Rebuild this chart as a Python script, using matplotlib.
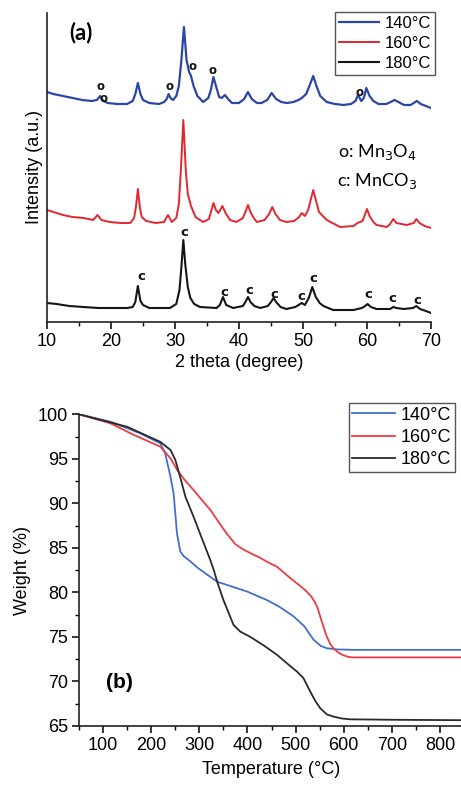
import matplotlib
matplotlib.use("Agg")
import matplotlib.pyplot as plt
from matplotlib.ticker import MultipleLocator

plt.rcParams['font.family'] = ['Liberation Sans', 'DejaVu Sans']

# ---------------- XRD data (a) ----------------
xrd_140_x = [10, 11, 12.5, 14, 15.5, 17, 17.8, 18.3, 18.8, 19.5, 21, 22.5, 23.4, 23.8, 24.2, 24.6, 25.0,
             26.0, 27.5, 28.3, 28.7, 29.0, 29.3, 29.7, 30.2, 30.6, 31.0, 31.4, 31.8, 32.2, 32.5, 32.9,
             33.5, 34.4, 35.2, 35.6, 36.0, 36.4, 36.9, 37.3, 37.8, 38.3, 38.9, 40.0, 40.8, 41.4, 42.0,
             42.8, 43.5, 44.4, 45.1, 45.8, 46.6, 47.5, 48.5, 49.3, 49.8, 50.5, 51.0, 51.6, 52.1, 52.7,
             53.7, 55.0, 56.3, 57.5, 58.2, 58.6, 59.1, 59.5, 59.9, 60.4, 61.0, 61.8, 63.0, 63.7, 64.3,
             64.9, 65.8, 66.8, 67.3, 67.8, 68.4, 69.2, 70.0]
xrd_140_y = [230, 228, 226, 224, 222, 221, 222, 226, 221, 219, 218, 218, 221, 228, 239, 228, 222,
             219, 218, 220, 223, 228, 224, 222, 226, 236, 262, 295, 262, 250, 246, 236,
             226, 220, 224, 232, 245, 236, 225, 224, 227, 223, 219, 219, 223, 230, 223,
             219, 219, 222, 229, 223, 220, 219, 220, 222, 224, 228, 236, 246, 236, 226,
             220, 218, 217, 218, 221, 227, 221, 224, 234, 226, 221, 218, 218, 220, 222,
             220, 217, 217, 219, 221, 218, 216, 214]

xrd_160_x = [10, 11, 12.5, 14, 15.7, 17.2, 17.9, 18.5, 19.8, 21.5, 23.0, 23.6, 23.9, 24.2, 24.5, 24.8,
             25.5, 27.0, 28.3, 28.9, 29.5, 30.2, 30.6, 30.9, 31.3, 31.7, 32.0, 32.5, 33.2, 34.4, 35.3,
             35.7, 36.0, 36.4, 36.8, 37.4, 37.9, 38.6, 39.6, 40.6, 41.0, 41.4, 41.8, 42.3, 42.8, 44.0,
             44.7, 45.2, 45.7, 46.4, 47.4, 48.6, 49.4, 49.8, 50.3, 50.8, 51.2, 51.6, 52.0, 52.5, 53.7,
             55.8, 57.9, 58.5, 58.9, 59.3, 59.6, 60.0, 60.4, 61.0, 61.5, 63.1, 63.6, 64.1, 64.6, 66.2,
             67.3, 67.7, 68.2, 69.0, 70.0]
xrd_160_y = [112, 110, 107, 105, 104, 102, 107, 102, 100, 99, 99, 104, 115, 133, 115, 105,
             101, 99, 100, 107, 100, 104, 118, 150, 202, 150, 128, 116, 105, 100, 103,
             112, 119, 112, 109, 116, 109, 102, 100, 104, 110, 117, 110, 104, 100, 102,
             108, 115, 108, 102, 100, 101, 105, 109, 106, 112, 122, 132, 122, 110, 102,
             95, 96, 99, 100, 101, 106, 113, 106, 100, 97, 95, 98, 103, 99, 97,
             99, 103, 99, 96, 94]

xrd_180_x = [10, 11.5, 13.5, 15.7, 18, 19.8, 22.5, 23.4, 23.8, 24.2, 24.6, 25.0, 26.0, 27.1, 29.2,
             30.2, 30.7, 31.0, 31.3, 31.6, 32.0, 32.4, 33.0, 33.9, 36.5, 37.0, 37.5, 38.0, 39.1, 40.6,
             41.0, 41.4, 41.8, 42.4, 43.3, 44.5, 45.0, 45.4, 45.8, 46.5, 47.4, 48.8, 49.8, 50.3, 50.9,
             51.45, 52.0, 52.6, 53.2, 54.7, 57.9, 59.2, 59.7, 60.1, 60.6, 61.5, 63.6, 64.1, 64.6, 65.7,
             67.2, 67.7, 68.3, 69.2, 70.0]
xrd_180_y = [19, 18, 16, 15, 14, 14, 14, 15, 20, 36, 21, 17, 14, 14, 14,
             18, 32, 55, 82, 58, 35, 24, 18, 15, 14, 17, 25, 17, 14, 16,
             20, 25, 20, 16, 14, 16, 20, 24, 20, 15, 13, 15, 19, 17, 24,
             35, 25, 19, 16, 12, 12, 14, 16, 18, 15, 13, 13, 15, 14, 13,
             14, 16, 13, 11, 9]

o_marks_x = [18.4, 18.85, 29.1, 32.8, 35.9, 58.75]
o_marks_y = [236, 224, 235, 255, 252, 230]
c_marks_x = [24.7, 31.4, 37.7, 41.6, 45.5, 49.8, 51.6, 60.2, 63.9, 67.8]
c_marks_y = [45, 89, 30, 31, 28, 26, 43, 28, 24, 21]

xrd_labels = ['140°C', '160°C', '180°C']

# ---------------- TGA data (b) ----------------
tga_140_T = [50, 115, 177, 219, 229, 240, 246.5, 250, 253.6, 257, 260.4, 267, 281, 298, 337, 371, 399,
             440, 466, 496, 518, 537, 552, 565, 586, 620, 850]
tga_140_W = [100, 99.17, 97.87, 96.74, 95.6, 93.0, 91.1, 88.9, 86.6, 85.6, 84.6, 84.1, 83.5, 82.7, 81.2,
             80.6, 80.1, 79.15, 78.4, 77.3, 76.2, 74.7, 74.0, 73.73, 73.6, 73.55, 73.55]

tga_160_T = [50, 115, 163.5, 219, 240, 254, 270, 288, 305, 323, 340, 357, 375, 392, 410, 426, 440, 461,
             489, 510, 523, 533, 540, 546, 551, 558, 565, 572, 579, 590, 599, 610, 620, 850]
tga_160_W = [100, 99.0, 97.7, 96.36, 95.06, 93.75, 92.6, 91.5, 90.4, 89.25, 87.9, 86.6, 85.4, 84.8,
             84.3, 83.9, 83.45, 82.9, 81.6, 80.7, 80.1, 79.5, 78.9, 78.2, 77.3, 76.1, 75.0, 74.2,
             73.7, 73.2, 72.95, 72.75, 72.7, 72.7]

tga_180_T = [50, 150, 219, 240, 250, 260, 271, 288, 305, 323, 330, 337, 350, 371, 385, 406, 435, 461,
             485, 503, 516, 530, 541, 551, 565, 579, 595, 613, 700, 850]
tga_180_W = [100, 98.6, 96.9, 96.0, 94.9, 93.0, 90.75, 88.5, 86.1, 83.6, 82.5, 81.2, 79.15, 76.34,
             75.6, 75.0, 74.0, 73.0, 71.9, 71.1, 70.4, 68.9, 67.8, 67.0, 66.3, 66.05, 65.85, 65.75,
             65.7, 65.65]

tga_labels = ['140°C', '160°C', '180°C']

# ---------------- figure ----------------
W_PX, H_PX = 461, 785
fig = plt.figure(figsize=(W_PX / 100, H_PX / 100), dpi=100)

def frac(x0, y0, x1, y1):
    return [x0 / W_PX, 1 - y1 / H_PX, (x1 - x0) / W_PX, (y1 - y0) / H_PX]

# ---- (a) XRD ----
ax1 = fig.add_axes(frac(47, 13, 431, 322))
c_blue_a = '#2a46a6'
c_red_a = '#e3262e'
c_blk_a = '#151515'
ax1.plot(xrd_140_x, xrd_140_y, color=c_blue_a, lw=1.6, label=xrd_labels[0])
ax1.plot(xrd_160_x, xrd_160_y, color=c_red_a, lw=1.4, label=xrd_labels[1])
ax1.plot(xrd_180_x, xrd_180_y, color=c_blk_a, lw=1.5, label=xrd_labels[2])
ax1.set_xlim(10, 70)
ax1.set_ylim(0, 309)
for x, y in zip(o_marks_x, o_marks_y):
    ax1.text(x, y, 'o', ha='center', va='center', fontsize=8.5, fontweight='bold',
             family='DejaVu Sans', color='#111111')
for x, y in zip(c_marks_x, c_marks_y):
    ax1.text(x, y, 'c', ha='center', va='center', fontsize=9.5, fontweight='bold',
             family='DejaVu Sans', color='#111111')
ax1.spines['top'].set_visible(False)
ax1.spines['right'].set_visible(False)
for s in ['left', 'bottom']:
    ax1.spines[s].set_linewidth(1.2)
    ax1.spines[s].set_color('#222222')
ax1.set_yticks([])
ax1.xaxis.set_major_locator(MultipleLocator(10))
ax1.xaxis.set_minor_locator(MultipleLocator(5))
ax1.tick_params(axis='x', which='major', direction='out', length=5, width=1.1, labelsize=13, pad=3)
ax1.tick_params(axis='x', which='minor', direction='out', length=3, width=1.0)
ax1.set_xlabel('2 theta (degree)', fontsize=13, labelpad=3)
ax1.set_ylabel('Intensity (a.u.)', fontsize=13, labelpad=3)
ax1.text(81 / W_PX, 1 - 33 / H_PX, '(a)', transform=fig.transFigure, fontsize=16,
         fontweight='bold', family='Lato', ha='center', va='center')
fig.text(338 / W_PX, 1 - 152 / H_PX, 'o: Mn$_3$O$_4$', fontsize=13, family='Lato', ha='left', va='center')
fig.text(337 / W_PX, 1 - 181 / H_PX, 'c: MnCO$_3$', fontsize=13, family='Lato', ha='left', va='center')
leg1 = ax1.legend(loc='upper right', bbox_to_anchor=(435 / W_PX, 1 - 12 / H_PX),
                  bbox_transform=fig.transFigure, borderaxespad=0, fontsize=12,
                  handlelength=2.4, handletextpad=0.3, labelspacing=0.28, borderpad=0.25,
                  fancybox=False, framealpha=1)
leg1.get_frame().set_edgecolor('#555555')
leg1.get_frame().set_linewidth(1.0)

# ---- (b) TGA ----
ax2 = fig.add_axes(frac(79, 414.3, 102.7 + 750 * 0.4819, 726))
ax2.plot(tga_140_T, tga_140_W, color='#3f6fd1', lw=1.3, label=tga_labels[0])
ax2.plot(tga_160_T, tga_160_W, color='#ee3b43', lw=1.3, label=tga_labels[1])
ax2.plot(tga_180_T, tga_180_W, color='#2a2a2a', lw=1.3, label=tga_labels[2])
ax2.set_xlim(50, 850)
ax2.set_ylim(65, 100)
ax2.spines['top'].set_visible(False)
ax2.spines['right'].set_visible(False)
for s in ['left', 'bottom']:
    ax2.spines[s].set_linewidth(1.2)
    ax2.spines[s].set_color('#222222')
ax2.xaxis.set_major_locator(MultipleLocator(100))
ax2.xaxis.set_minor_locator(MultipleLocator(50))
ax2.yaxis.set_major_locator(MultipleLocator(5))
ax2.yaxis.set_minor_locator(MultipleLocator(2.5))
ax2.tick_params(which='major', direction='out', length=5, width=1.1, labelsize=13, pad=3)
ax2.tick_params(which='minor', direction='out', length=3, width=1.0)
ax2.set_xticks([100, 200, 300, 400, 500, 600, 700, 800])
ax2.set_xlabel('Temperature (°C)', fontsize=13, labelpad=5)
ax2.set_ylabel('Weight (%)', fontsize=13, labelpad=5)
fig.text(119 / W_PX, 1 - 683 / H_PX, '(b)', fontsize=15, fontweight='bold', ha='center', va='center')
leg2 = ax2.legend(loc='upper right', bbox_to_anchor=(455 / W_PX, 1 - 403 / H_PX),
                  bbox_transform=fig.transFigure, borderaxespad=0, fontsize=13,
                  handlelength=2.4, handletextpad=0.3, labelspacing=0.3, borderpad=0.2,
                  fancybox=False, framealpha=1)
leg2.get_frame().set_edgecolor('#555555')
leg2.get_frame().set_linewidth(1.0)

fig.savefig('out.png', dpi=100)
